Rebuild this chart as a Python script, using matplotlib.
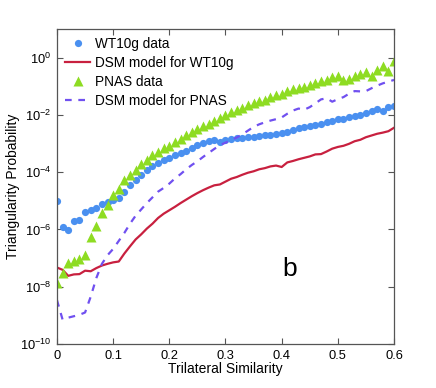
import numpy as np
import matplotlib
matplotlib.use('Agg')
import matplotlib.pyplot as plt

plt.rcParams['font.family'] = ['Liberation Sans', 'DejaVu Sans']

# data (log10 of probability), x = 0, 0.01, ..., 0.6
sim = np.round(np.arange(0, 0.601, 0.01), 2)

wt10g_data = [-4.99, -5.92, -6.03, -5.71, -5.67, -5.40, -5.33, -5.24, -5.12, -5.04,
              -4.96, -4.90, -4.69, -4.46, -4.26, -4.10, -3.94, -3.80, -3.69, -3.58,
              -3.51, -3.40, -3.33, -3.25, -3.16, -3.05, -2.97, -2.92, -2.87, -2.95,
              -2.89, -2.85, -2.82, -2.80, -2.78, -2.78, -2.75, -2.72, -2.69, -2.66,
              -2.64, -2.60, -2.52, -2.45, -2.43, -2.38, -2.36, -2.32, -2.25, -2.20,
              -2.14, -2.15, -2.09, -2.03, -1.99, -1.95, -1.87, -1.81, -1.86, -1.74,
              -1.70]

wt10g_model = [-7.33, -7.41, -7.62, -7.57, -7.56, -7.44, -7.46, -7.35, -7.26, -7.20,
               -7.15, -7.12, -6.84, -6.59, -6.35, -6.17, -5.97, -5.80, -5.60, -5.45,
               -5.33, -5.21, -5.08, -4.96, -4.84, -4.73, -4.63, -4.54, -4.46, -4.43,
               -4.33, -4.23, -4.17, -4.09, -4.02, -3.97, -3.90, -3.86, -3.80, -3.77,
               -3.82, -3.66, -3.61, -3.55, -3.50, -3.45, -3.38, -3.37, -3.28, -3.18,
               -3.12, -3.08, -3.01, -2.92, -2.87, -2.78, -2.72, -2.66, -2.62, -2.57,
               -2.45]

pnas_data = [-7.86, -7.52, -7.17, -7.10, -7.02, -6.90, -6.27, -5.88, -5.42, -5.13,
             -4.81, -4.58, -4.26, -4.09, -3.91, -3.70, -3.59, -3.41, -3.29, -3.15,
             -3.07, -2.95, -2.83, -2.72, -2.60, -2.48, -2.39, -2.31, -2.23, -2.11,
             -2.00, -1.91, -1.82, -1.75, -1.67, -1.59, -1.52, -1.47, -1.39, -1.32,
             -1.27, -1.15, -1.11, -1.07, -1.01, -0.95, -0.89, -0.83, -0.78, -0.69,
             -0.63, -0.77, -0.74, -0.66, -0.57, -0.51, -0.63, -0.43, -0.31, -0.48,
             -0.13]

pnas_model = [-8.47, -9.15, -9.08, -9.03, -8.98, -8.90, -8.35, -7.70, -7.20, -6.90,
              -6.68, -6.40, -6.12, -5.80, -5.52, -5.30, -5.08, -4.88, -4.68, -4.55,
              -4.40, -4.22, -4.07, -3.90, -3.75, -3.62, -3.47, -3.33, -3.19, -3.06,
              -2.97, -2.88, -2.79, -2.68, -2.55, -2.42, -2.33, -2.26, -2.20, -2.15,
              -2.09, -1.96, -1.85, -1.78, -1.82, -1.73, -1.60, -1.46, -1.42, -1.54,
              -1.45, -1.38, -1.26, -1.17, -1.18, -1.17, -1.07, -0.98, -0.90, -0.84,
              -0.78]

fig = plt.figure(figsize=(4.36, 3.88), dpi=100)
ax = fig.add_axes([0.1307, 0.1134, 0.773, 0.812])

ax.semilogy(sim, 10.0 ** np.array(wt10g_data), 'o', color='#4a90f0', ms=5.2,
            mec='none', label='WT10g data')
ax.semilogy(sim, 10.0 ** np.array(wt10g_model), '-', color='#c8203f', lw=1.6,
            label='DSM model for WT10g')
ax.semilogy(sim, 10.0 ** np.array(pnas_data), '^', color='#8edc22', ms=7.5,
            mec='none', label='PNAS data')
ax.semilogy(sim, 10.0 ** np.array(pnas_model), '--', color='#7050f0', lw=1.6,
            dashes=(3, 3), label='DSM model for PNAS')

ax.set_xlim(0, 0.6)
ax.set_ylim(1e-10, 1e1)
ax.set_xticks([0, 0.1, 0.2, 0.3, 0.4, 0.5, 0.6])
ax.set_xticklabels(['0', '0.1', '0.2', '0.3', '0.4', '0.5', '0.6'])
yt = [1e-10, 1e-8, 1e-6, 1e-4, 1e-2, 1e0]
ax.set_yticks(yt)
ax.set_yticklabels([r'$\mathregular{10^{%d}}$' % int(np.log10(v)) for v in yt])
ax.minorticks_off()
ax.tick_params(direction='in', top=True, right=True, labelsize=9.3,
               length=4, color='#555555', pad=4)
for s in ax.spines.values():
    s.set_color('#555555')
    s.set_linewidth(0.9)

ax.set_xlabel('Trilateral Similarity', fontsize=10, labelpad=0)
ax.set_ylabel('Triangularity Probability', fontsize=10, labelpad=0)
ax.text(0.415, 10 ** -7.63, 'b', fontsize=19, ha='center', va='baseline')

ax.legend(loc='upper left', frameon=False, fontsize=9.8, handlelength=1.85,
          handletextpad=0.35, labelspacing=0.37, borderaxespad=0.3,
          borderpad=0.3)

fig.savefig('out.png', dpi=100)
